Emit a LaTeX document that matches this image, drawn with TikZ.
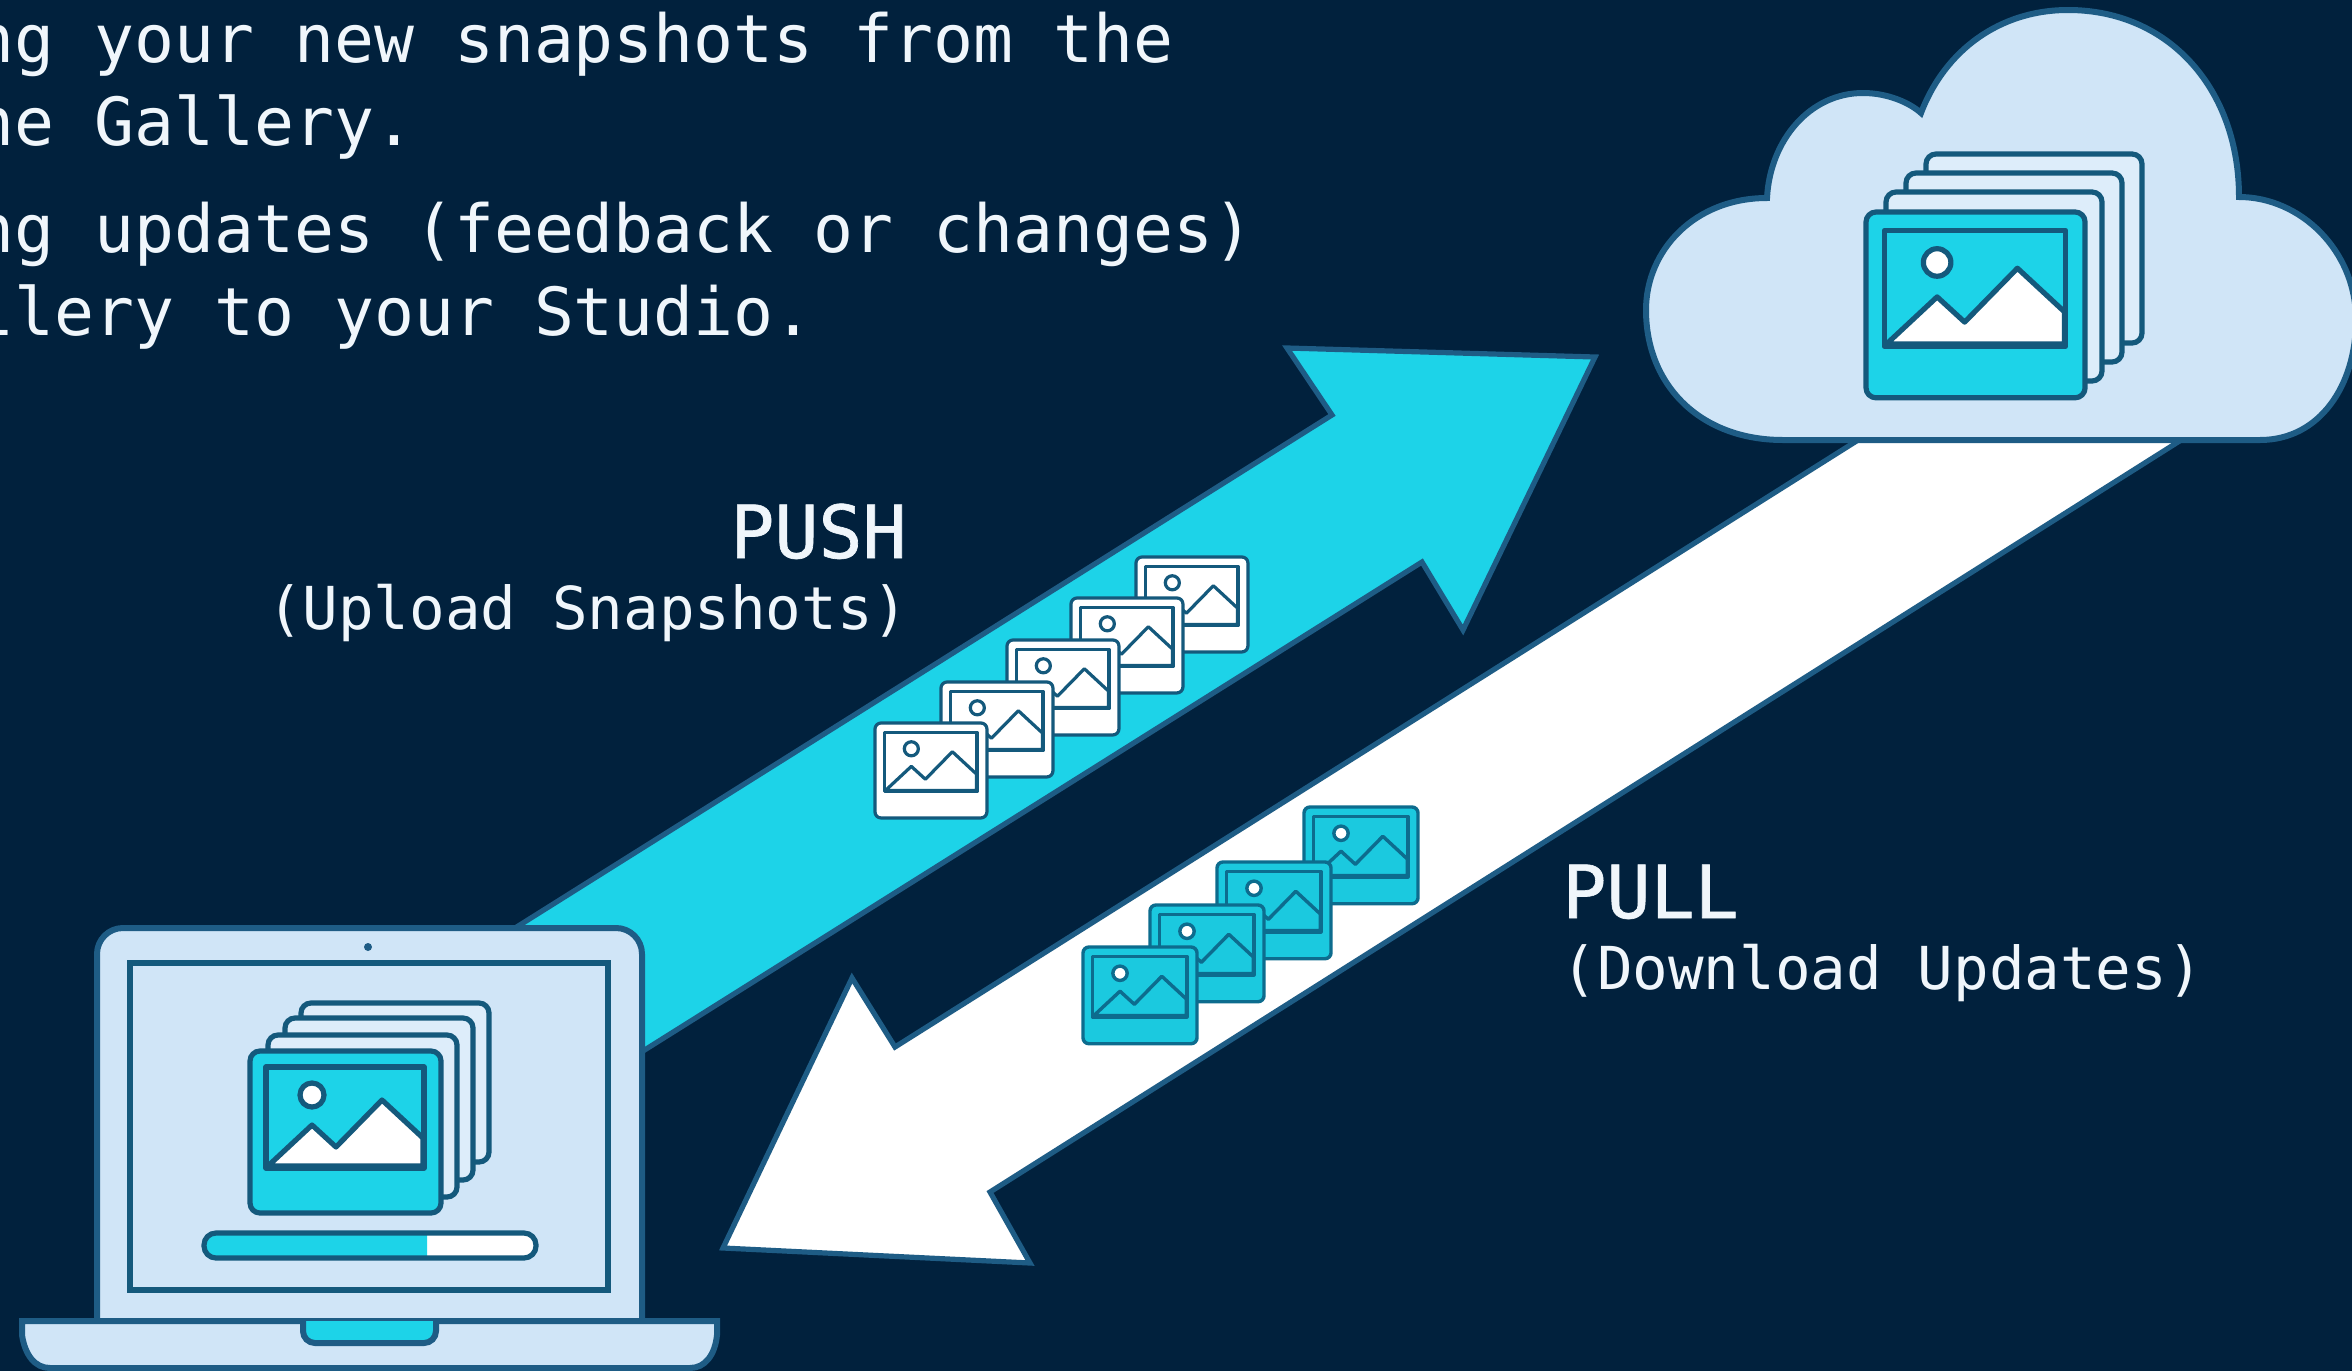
\documentclass[tikz,border=0pt]{standalone}
\usepackage{fontspec}
\setmainfont{DejaVu Sans Mono}
\newfontfamily\headfont[FakeBold=0.9]{DejaVu Sans Mono}
\definecolor{bgdark}{HTML}{01213D}
\definecolor{cyanfill}{HTML}{1DD3E8}
\definecolor{lightblue}{HTML}{D0E5F7}
\definecolor{paleblue}{HTML}{DDEDFA}
\definecolor{edge}{HTML}{1E5C85}
\definecolor{cardedge}{HTML}{14597C}
\definecolor{tealedge}{HTML}{0D6C8E}
\definecolor{txt}{HTML}{F0F6FB}
\tikzset{
  bodytext/.style={text=txt,inner sep=0pt,anchor=base west,font=\fontsize{33.2}{33.2}\selectfont},
  headtext/.style={text=txt,inner sep=0pt,font=\headfont\fontsize{36.6}{36.6}\selectfont},
  subtext/.style={text=txt,inner sep=0pt,font=\fontsize{29.6}{29.6}\selectfont},
  bigarrow/.style={draw=edge,line width=2.6pt,line join=miter},
  device/.style={draw=edge,fill=lightblue,line width=3pt},
  screenline/.style={draw=cardedge,line width=3pt},
}
% x y scale cardfill photofill mountainfill linewidth linecolour corner
\newcommand\photocard[9]{%
  \begin{scope}[shift={(#1,#2)},scale=#3,line width=#7pt,draw=#8,line join=round]
    \draw[fill=#4,rounded corners=#9pt] (0,0) rectangle (191,162);
    \draw[fill=#5] (16,16) rectangle (174,117);
    \draw[fill=#6] (18,115) -- (62,74) -- (86,96) -- (132,49) -- (173,87) -- (173,115) -- cycle;
    \draw[fill=white] (62,44) circle [radius=12];
  \end{scope}}
% x y w h fill
\newcommand\backcard[5]{%
  \draw[fill=#5,draw=cardedge,line width=2.6pt,rounded corners=5pt] (#1,#2) rectangle ++(#3,#4);}
\begin{document}
\begin{tikzpicture}[x=0.5pt,y=-0.5pt]
\useasboundingbox (0,0) rectangle (2352,1371);
\fill[bgdark] (0,0) rectangle (2352,1371);
\clip (0,0) rectangle (2352,1371);

% text block
\node[bodytext] (lineA) at (-26,62) {ng your new snapshots from the};
\node[bodytext] (lineB) at (-26,145) {he Gallery.};
\node[bodytext] (lineC) at (-26,252) {ng updates (feedback or changes)};
\node[bodytext] (lineD) at (-26,335) {llery to your Studio.};

% push arrow
\draw[bigarrow,fill=cyanfill] (1595,357) -- (1287,348) -- (1332,415) -- (480,950) -- (600,1078) -- (1422,562) -- (1463,630) -- cycle;
% pull arrow
\draw[bigarrow,fill=white] (1874,430) -- (895,1047) -- (852,978) -- (723,1248) -- (1030,1263) -- (990,1192) -- (2197,430) -- cycle;

% labels
\node[headtext,anchor=base east] (pushlabel) at (907,558) {PUSH};
\node[subtext,anchor=base east] (pushsub) at (909,629) {(Upload Snapshots)};
\node[headtext,anchor=base west] (pulllabel) at (1562,918) {PULL};
\node[subtext,anchor=base west] (pullsub) at (1561,989) {(Download Updates)};

% cards on push arrow
\photocard{1136}{557}{0.586}{white}{white}{white}{1.6}{cardedge}{3}
\photocard{1071}{598}{0.586}{white}{white}{white}{1.6}{cardedge}{3}
\photocard{1007}{640}{0.586}{white}{white}{white}{1.6}{cardedge}{3}
\photocard{941}{682}{0.586}{white}{white}{white}{1.6}{cardedge}{3}
\photocard{875}{723}{0.586}{white}{white}{white}{1.6}{cardedge}{3}

% cards on pull arrow
\photocard{1304}{807}{0.597}{cyanfill!90!tealedge}{cyanfill!90!tealedge}{cyanfill!90!tealedge}{1.7}{tealedge}{3}
\photocard{1217}{862}{0.597}{cyanfill!90!tealedge}{cyanfill!90!tealedge}{cyanfill!90!tealedge}{1.7}{tealedge}{3}
\photocard{1150}{905}{0.597}{cyanfill!90!tealedge}{cyanfill!90!tealedge}{cyanfill!90!tealedge}{1.7}{tealedge}{3}
\photocard{1083}{947}{0.597}{cyanfill!90!tealedge}{cyanfill!90!tealedge}{cyanfill!90!tealedge}{1.7}{tealedge}{3}

% cloud
\draw[device] (1783,440)
  .. controls (1700,440) and (1646,385) .. (1646,310)
  .. controls (1646,250) and (1695,198) .. (1767,198)
  .. controls (1770,140) and (1810,93) .. (1863,93)
  .. controls (1888,93) and (1910,103) .. (1921,113)
  .. controls (1945,50) and (2000,10) .. (2068,10)
  .. controls (2170,10) and (2239,90) .. (2239,197)
  .. controls (2300,197) and (2356,250) .. (2356,320)
  .. controls (2356,385) and (2320,440) .. (2260,440) -- cycle;
\backcard{1926}{154}{216}{189}{paleblue}
\backcard{1906}{173}{216}{189}{paleblue}
\backcard{1886}{192}{216}{189}{paleblue}
\photocard{1866}{212}{1.147}{cyanfill}{cyanfill}{white}{2.6}{cardedge}{5}

% laptop
\draw[device,rounded corners=13pt] (97,1321) -- (97,928) -- (642,928) -- (642,1321);
\fill[edge] (368,947) circle [radius=4];
\draw[screenline] (130,963) rectangle (608,1290);
\draw[device] (22,1321) -- (717,1321) -- (717,1335) .. controls (715,1355) and (705,1368) .. (690,1368) -- (50,1368) .. controls (35,1368) and (25,1355) .. (22,1335) -- cycle;
\draw[draw=edge,fill=cyanfill,line width=3pt,rounded corners=6pt] (303,1321) -- (303,1343) -- (436,1343) -- (436,1321);
\backcard{301}{1003}{188}{159}{paleblue}
\backcard{285}{1018}{188}{162}{paleblue}
\backcard{268}{1035}{189}{162}{paleblue}
\photocard{250}{1051}{1}{cyanfill}{cyanfill}{white}{2.6}{cardedge}{5}
% progress bar
\fill[white,rounded corners=6pt] (204,1233) rectangle (536,1258);
\begin{scope}
  \clip (204,1233) rectangle (427,1258);
  \fill[cyanfill,rounded corners=6pt] (204,1233) rectangle (536,1258);
\end{scope}
\draw[cardedge,line width=2.6pt,rounded corners=6pt] (204,1233) rectangle (536,1258);
\end{tikzpicture}
\end{document}
